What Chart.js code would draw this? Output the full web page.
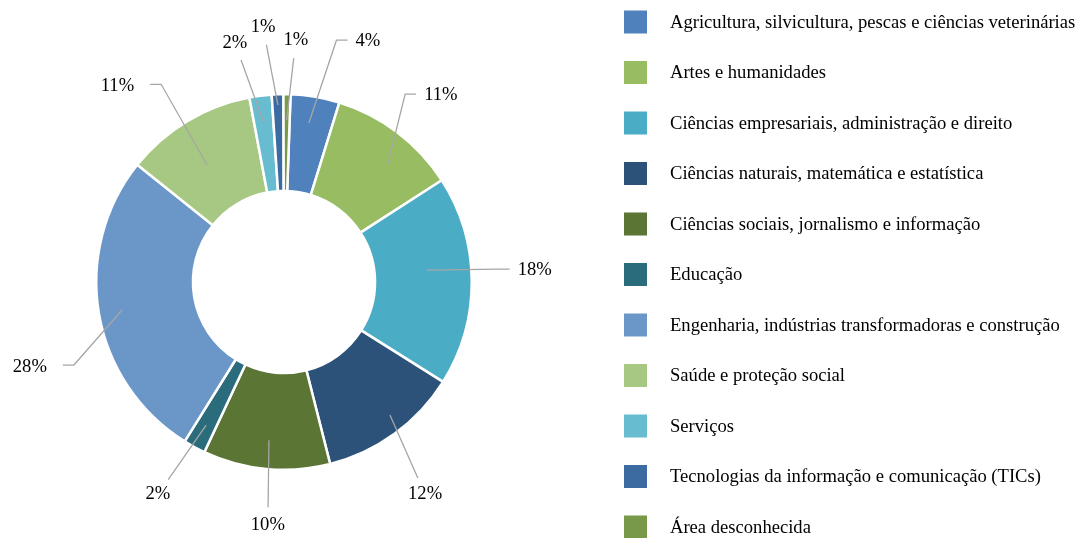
<!DOCTYPE html>
<html>
<head>
<meta charset="utf-8">
<script src="https://cdn.jsdelivr.net/npm/chart.js@4/dist/chart.umd.min.js"></script>
<style>
  html, body { margin: 0; padding: 0; background: #fff; }
  #wrap { width: 1078px; height: 538px; position: relative; }
</style>
</head>
<body>
<div id="wrap"><canvas id="c" width="1078" height="538"></canvas></div>
<script>
const categories = [
  'Agricultura, silvicultura, pescas e ciências veterinárias',
  'Artes e humanidades',
  'Ciências empresariais, administração e direito',
  'Ciências naturais, matemática e estatística',
  'Ciências sociais, jornalismo e informação',
  'Educação',
  'Engenharia, indústrias transformadoras e construção',
  'Saúde e proteção social',
  'Serviços',
  'Tecnologias da informação e comunicação (TICs)',
  'Área desconhecida'
];
const values = [4.2, 11.1, 18.0, 12.1, 10.9, 1.9, 26.8, 11.3, 1.9, 1.0, 0.6];
const pctLabels = ['4%', '11%', '18%', '12%', '10%', '2%', '28%', '11%', '2%', '1%', '1%'];
const colors = ['#4F81BD', '#97BC62', '#4BACC6', '#2C5279', '#5B7535', '#2A6B7C',
                '#6A97C8', '#A7C883', '#67BCD0', '#3B6BA0', '#78994A'];

// label placement (styling): a = angle (deg, clockwise from top) and d = distance of text centre,
// r0 = radius where leader line starts, sa = start-angle offset, end = leader style
const labelPlacement = [
  {a: 19.2, d: 255, r0: 161, sa: -0.7, end: 'L'},
  {a: 40.0, d: 244, r0: 156, sa: 4.4, end: 'L'},
  {a: 87.3, d: 251, r0: 143, sa: -4.4, end: 'L'},
  {a: 146.4, d: 255, r0: 170, sa: -2.5, end: 'B'},
  {a: 183.8, d: 244, r0: 159, sa: 0, end: 'B'},
  {a: 210.7, d: 247, r0: 163, sa: 0, end: 'B'},
  {a: 251.5, d: 268, r0: 164, sa: 0, end: 'R'},
  {a: 319.6, d: 257, r0: 140, sa: -2.3, end: 'R'},
  {a: 348.4, d: 244, r0: 160, sa: 0, end: 'B'},
  {a: 355.3, d: 256, r0: 177, sa: 0, end: 'B'},
  {a: 2.8, d: 242, r0: 162, sa: 0, end: 'B'}
];

const FONT = '18.6px "Liberation Serif", "Times New Roman", serif';

const sliceLabels = {
  id: 'sliceLabels',
  afterDatasetsDraw(chart) {
    const ctx = chart.ctx;
    const meta = chart.getDatasetMeta(0);
    ctx.save();
    ctx.font = FONT;
    ctx.textAlign = 'center';
    ctx.textBaseline = 'middle';
    meta.data.forEach((arc, i) => {
      const p = arc.getProps(['x', 'y', 'startAngle', 'endAngle'], true);
      const pl = labelPlacement[i];
      const mid = (p.startAngle + p.endAngle) / 2 + pl.sa * Math.PI / 180;
      const sx = p.x + Math.cos(mid) * pl.r0;
      const sy = p.y + Math.sin(mid) * pl.r0;
      const la = (pl.a - 90) * Math.PI / 180;
      const tx = p.x + Math.cos(la) * pl.d;
      const ty = p.y + Math.sin(la) * pl.d;
      const txt = pctLabels[i];
      const w = ctx.measureText(txt).width;
      const pts = [[sx, sy]];
      if (pl.end === 'L') {
        const ex = tx - w / 2 - 8;
        pts.push([ex - 11, ty - 1], [ex, ty - 1]);
      } else if (pl.end === 'R') {
        const ex = tx + w / 2 + 16;
        pts.push([ex + 11, ty - 2], [ex, ty - 2]);
      } else {
        const dx = tx - sx, dy = ty - sy, L = Math.hypot(dx, dy);
        pts.push([tx - dx / L * 18, ty - dy / L * 18]);
      }
      ctx.strokeStyle = '#A6A6A6';
      ctx.lineWidth = 1.3;
      ctx.beginPath();
      ctx.moveTo(pts[0][0], pts[0][1]);
      for (let k = 1; k < pts.length; k++) ctx.lineTo(pts[k][0], pts[k][1]);
      ctx.stroke();
      ctx.fillStyle = '#000';
      ctx.fillText(txt, tx, ty);
    });
    ctx.restore();
  }
};

const sideLegend = {
  id: 'sideLegend',
  afterDraw(chart) {
    const ctx = chart.ctx;
    const ds = chart.data.datasets[0];
    ctx.save();
    ctx.font = FONT;
    ctx.textAlign = 'left';
    ctx.textBaseline = 'middle';
    chart.data.labels.forEach((lab, i) => {
      const cy = 22 + i * 50.5;
      ctx.fillStyle = ds.backgroundColor[i];
      ctx.fillRect(624, cy - 11.5, 23, 23);
      ctx.fillStyle = '#000';
      ctx.fillText(lab, 670, cy + 1);
    });
    ctx.restore();
  }
};

new Chart(document.getElementById('c'), {
  type: 'doughnut',
  data: {
    labels: categories,
    datasets: [{
      data: values,
      backgroundColor: colors,
      borderColor: '#ffffff',
      borderWidth: 2.5
    }]
  },
  options: {
    responsive: false,
    animation: false,
    cutout: '48.5%',
    rotation: 2,
    layout: { padding: { left: 95, top: 93, right: 605, bottom: 67 } },
    plugins: {
      legend: { display: false },
      tooltip: { enabled: false }
    }
  },
  plugins: [sliceLabels, sideLegend]
});
</script>
</body>
</html>
